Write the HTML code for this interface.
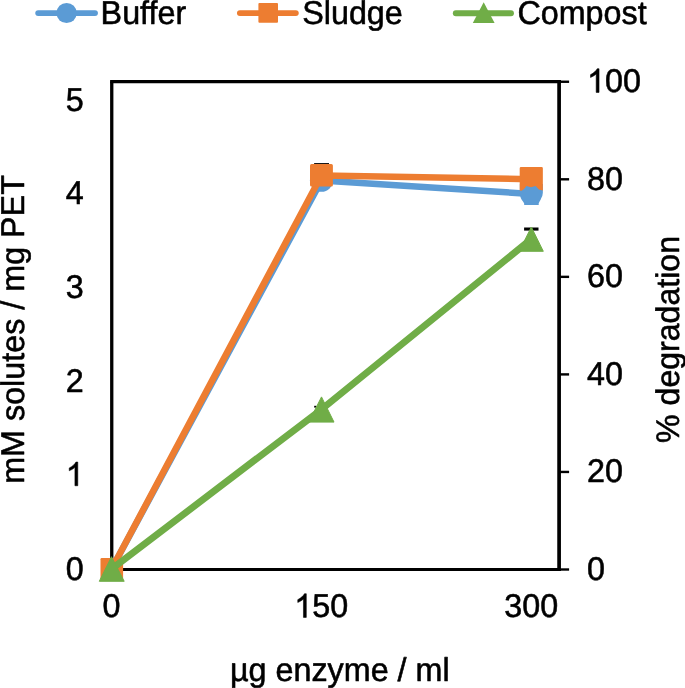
<!DOCTYPE html>
<html><head><meta charset="utf-8">
<style>
html,body{margin:0;padding:0;background:#fff;}
body{width:685px;height:688px;overflow:hidden;}
svg{display:block;will-change:transform;}
text{font-family:"Liberation Sans",sans-serif;font-size:32.3px;fill:#000;stroke:#000;stroke-width:0.55px;stroke-linejoin:round;text-rendering:geometricPrecision;}
</style></head><body>
<svg width="685" height="688" viewBox="0 0 685 688">
<rect width="685" height="688" fill="#fff"/>
<g fill="none" stroke-linecap="round" stroke-width="5.9">
<line x1="38.2" y1="13.1" x2="95" y2="13.1" stroke="#5B9BD5"/>
<line x1="239.9" y1="13.1" x2="295.8" y2="13.1" stroke="#ED7D31"/>
<line x1="455.8" y1="13.3" x2="511" y2="13.3" stroke="#70AD47"/>
</g>
<circle cx="66.6" cy="13" r="10.1" fill="#5B9BD5"/>
<rect x="258.4" y="3" width="19.6" height="19.8" rx="1" fill="#ED7D31"/>
<path d="M483.7 2.2 L494.6 23 L472.8 23 Z" fill="#70AD47"/>
<text transform="translate(100.60 23.70) scale(1 1.02)">Buffer</text>
<text transform="translate(302.20 23.70) scale(1 1.02)">Sludge</text>
<text transform="translate(517.40 23.70) scale(1 1.02)">Compost</text>
<g fill="none" stroke="#000">
<path d="M111.75 571 V81.55" stroke-width="3.3"/>
<path d="M559.1 571 V79.9" stroke-width="3.7"/>
<path d="M110.1 81.55 H560.95" stroke-width="3.3"/>
<path d="M110.1 569.45 H560.95" stroke-width="3.1"/>
<g stroke-width="2.4">
<path d="M559 81.75 H569.1"/><path d="M559 179.3 H569.1"/><path d="M559 276.85 H569.1"/><path d="M559 374.4 H569.1"/><path d="M559 471.95 H569.1"/><path d="M559 569.5 H569.1"/>
</g>
</g>
<text transform="translate(65.74 579.50) scale(1 1.02)">0</text>
<path transform="translate(65.74 485.74) scale(0.015771 -0.016087)" d="M763 0H583V1147Q518 1085 412.5 1023T223 930V1104Q374 1175 487 1276T647 1472H763Z" fill="#000" stroke="#000" stroke-width="34.9" stroke-linejoin="round"/>
<text transform="translate(65.74 391.98) scale(1 1.02)">2</text>
<text transform="translate(65.74 298.22) scale(1 1.02)">3</text>
<text transform="translate(65.74 204.46) scale(1 1.02)">4</text>
<text transform="translate(65.74 110.70) scale(1 1.02)">5</text>
<text transform="translate(587.00 579.90) scale(1 1.02)">0</text>
<text transform="translate(587.00 482.40) scale(1 1.02)">20</text>
<text transform="translate(587.00 384.90) scale(1 1.02)">40</text>
<text transform="translate(587.00 287.40) scale(1 1.02)">60</text>
<text transform="translate(587.00 189.90) scale(1 1.02)">80</text>
<path transform="translate(587.00 92.40) scale(0.015771 -0.016087)" d="M763 0H583V1147Q518 1085 412.5 1023T223 930V1104Q374 1175 487 1276T647 1472H763Z" fill="#000" stroke="#000" stroke-width="34.9" stroke-linejoin="round"/>
<text transform="translate(604.96 92.40) scale(1 1.02)">00</text>
<text transform="translate(102.62 617.40) scale(1 1.02)">0</text>
<path transform="translate(294.26 617.40) scale(0.015771 -0.016087)" d="M763 0H583V1147Q518 1085 412.5 1023T223 930V1104Q374 1175 487 1276T647 1472H763Z" fill="#000" stroke="#000" stroke-width="34.9" stroke-linejoin="round"/>
<text transform="translate(312.22 617.40) scale(1 1.02)">50</text>
<text transform="translate(504.26 617.40) scale(1 1.02)">300</text>
<text transform="translate(230.00 680.70) scale(1 1.02)">µg enzyme / ml</text>
<text transform="translate(24.10 483.80) rotate(-90) scale(1 1.02)">mM solutes / mg PET</text>
<text transform="translate(679.00 442.90) rotate(-90) scale(1 1.02)" style="font-size:32.1px">% degradation</text>
<g fill="none" stroke-linejoin="round" stroke-linecap="round" stroke-width="6.5">
<polyline points="111.6,569 321.45,180.6 531.3,193.9" stroke="#5B9BD5"/>
</g>
<circle cx="321.45" cy="180.3" r="11.5" fill="#5B9BD5"/>
<path d="M519.85 184 L519.85 192.7 Q520 195.6 520.8 198 Q521.6 199.9 522.8 201.3 L524.1 203.25 L524.2 204.9 L538.7 204.9 L538.7 203.25 L539.7 201.3 Q540.7 199.9 541.3 198 Q542.7 195.6 542.85 192.7 L542.85 184 Z" fill="#5B9BD5"/>
<rect x="314.1" y="163.1" width="14.9" height="1.5" fill="#000"/>
<g fill="none" stroke-linejoin="round" stroke-linecap="round" stroke-width="6.5">
<polyline points="111.6,569 321.45,175.5 531.3,179.2" stroke="#ED7D31"/>
</g>
<rect x="100.5" y="558" width="22.6" height="22" rx="1.2" fill="#ED7D31"/>
<rect x="310" y="164" width="22.9" height="22.4" rx="1.5" fill="#ED7D31"/>
<path d="M521 166.9 H541.6 Q542.85 166.9 542.85 168.2 V190.5 L538.9 189.6 L535.6 186 L531 187.3 L526.4 186 L524.1 188.9 L521.5 190.7 L519.7 190.5 V168.2 Q519.7 166.9 521 166.9 Z" fill="#ED7D31"/>
<rect x="524.1" y="227.5" width="14.4" height="3.1" fill="#000"/>
<rect x="314.2" y="405.8" width="2.2" height="1.8" fill="#000"/>
<g fill="none" stroke-linejoin="round" stroke-linecap="round" stroke-width="6.9">
<polyline points="111.6,569 321.5,409.4 531.4,239.0" stroke="#70AD47"/>
</g>
<g fill="#70AD47" stroke="#70AD47" stroke-width="1" stroke-linejoin="round">
<path d="M111.5 556.7 L124.2 581.3 L99.3 581.3 Z"/>
<path d="M321.5 396.9 L334.0 422.1 L308.8 422.1 Z"/>
<path d="M531.35 227.0 L543.3 251.3 L519.2 251.3 Z"/>
</g>
</svg>
</body></html>
